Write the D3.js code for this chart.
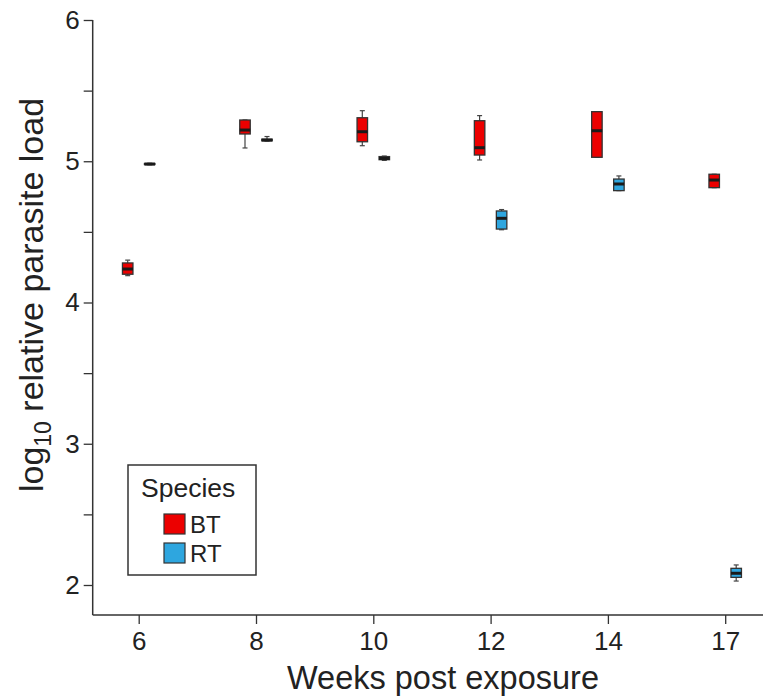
<!DOCTYPE html>
<html>
<head>
<meta charset="utf-8">
<script src="https://cdn.jsdelivr.net/npm/d3@7"></script>
<style>
  body { margin: 0; background: #fff; }
  text { font-family: "Liberation Sans", Arial, Helvetica, sans-serif; fill: #222; }
</style>
</head>
<body>
<div id="chart"></div>
<script>
'use strict';

// weeks post exposure (x categories)
var weeks = ['6', '8', '10', '12', '14', '17']
var species = ['BT', 'RT']
var speciesColor = ['#ec0000', '#2ea6df']

// [lower whisker, q1, median, q3, upper whisker] per week
var btStats = [
    [4.19, 4.20, 4.237, 4.28, 4.30],
    [5.094, 5.193, 5.221, 5.292, 5.292],
    [5.110, 5.138, 5.209, 5.308, 5.358],
    [5.009, 5.044, 5.096, 5.287, 5.323],
    [5.028, 5.028, 5.216, 5.351, 5.351],
    [4.813, 4.813, 4.867, 4.908, 4.908]
]
var rtStats = [
    [4.975, 4.977, 4.98, 4.984, 4.986],
    [5.143, 5.145, 5.15, 5.156, 5.175],
    [5.006, 5.011, 5.02, 5.033, 5.037],
    [4.515, 4.52, 4.596, 4.648, 4.658],
    [4.792, 4.792, 4.839, 4.874, 4.896],
    [2.028, 2.054, 2.083, 2.118, 2.142]
]

var yTicks = [2, 2.5, 3, 3.5, 4, 4.5, 5, 5.5, 6]

var W = 763, H = 698
var svg = d3.select('#chart').append('svg').attr('width', W).attr('height', H)

var x = d3.scalePoint().domain(weeks).range([138.7, 725.2])
var y = d3.scaleLinear().domain([2, 6]).range([585, 20])
var axisX = 92.7, axisY = 615
var dodge = 11, boxW = 10.5, capW = 5

// axis lines (open L frame)
svg.append('line').attr('x1', axisX).attr('x2', axisX).attr('y1', y(6)).attr('y2', axisY)
    .style('stroke', '#333').style('stroke-width', 1.5)
svg.append('line').attr('x1', axisX).attr('x2', W).attr('y1', axisY).attr('y2', axisY)
    .style('stroke', '#333').style('stroke-width', 1.5)

var yAxis = svg.append('g')
    .attr('transform', 'translate(' + axisX + ',0)')
    .call(d3.axisLeft(y).tickValues(yTicks).tickSize(9).tickPadding(4)
        .tickFormat(function(d) { return d % 1 === 0 ? d : '' }))
yAxis.select('.domain').remove()
yAxis.selectAll('line').style('stroke', '#333').style('stroke-width', 1.3)
yAxis.selectAll('text').style('font-size', '26px').style('fill', '#222')
    .style('font-family', '"Liberation Sans", Arial, sans-serif')

var xAxis = svg.append('g')
    .attr('transform', 'translate(0,' + axisY + ')')
    .call(d3.axisBottom(x).tickSize(9).tickPadding(8))
xAxis.select('.domain').remove()
xAxis.selectAll('line').style('stroke', '#333').style('stroke-width', 1.3)
xAxis.selectAll('text').style('font-size', '26px').style('fill', '#222')
    .style('font-family', '"Liberation Sans", Arial, sans-serif')

// axis titles
svg.append('text')
    .attr('x', 443).attr('y', 689)
    .attr('text-anchor', 'middle')
    .style('font-size', '32.5px')
    .text('Weeks post exposure')

var yt = svg.append('text')
    .attr('transform', 'translate(43,295) rotate(-90)')
    .attr('text-anchor', 'middle')
    .style('font-size', '34px')
yt.append('tspan').text('log')
yt.append('tspan').attr('dy', 8).style('font-size', '23px').text('10')
yt.append('tspan').attr('dy', -8).text(' relative parasite load')

// box plots
var rows = []
weeks.forEach(function(w, i) {
    rows.push({week: w, sp: 0, s: btStats[i]})
    rows.push({week: w, sp: 1, s: rtStats[i]})
})

var g = svg.selectAll('.box').data(rows).enter().append('g')
    .attr('class', 'box')
    .attr('transform', function(d) {
        return 'translate(' + (x(d.week) + (d.sp === 0 ? -dodge : dodge)) + ',0)'
    })

g.append('line').attr('x1', 0).attr('x2', 0)
    .attr('y1', function(d) { return y(d.s[0]) })
    .attr('y2', function(d) { return y(d.s[4]) })
    .style('stroke', '#444').style('stroke-width', 1.2)
g.append('line').attr('x1', -capW / 2).attr('x2', capW / 2)
    .attr('y1', function(d) { return y(d.s[0]) })
    .attr('y2', function(d) { return y(d.s[0]) })
    .style('stroke', '#444').style('stroke-width', 1.2)
g.append('line').attr('x1', -capW / 2).attr('x2', capW / 2)
    .attr('y1', function(d) { return y(d.s[4]) })
    .attr('y2', function(d) { return y(d.s[4]) })
    .style('stroke', '#444').style('stroke-width', 1.2)
g.append('rect')
    .attr('x', -boxW / 2).attr('width', boxW)
    .attr('y', function(d) { return y(d.s[3]) })
    .attr('height', function(d) { return Math.max(1, y(d.s[1]) - y(d.s[3])) })
    .style('fill', function(d) { return speciesColor[d.sp] })
    .style('stroke', '#333').style('stroke-width', 1.3)
g.append('line').attr('x1', -boxW / 2).attr('x2', boxW / 2)
    .attr('y1', function(d) { return y(d.s[2]) })
    .attr('y2', function(d) { return y(d.s[2]) })
    .style('stroke', '#1a1a1a').style('stroke-width', 3)

// legend
var lg = svg.append('g')
lg.append('rect').attr('x', 128).attr('y', 465).attr('width', 128).attr('height', 110)
    .style('fill', '#fff').style('stroke', '#333').style('stroke-width', 1.5)
lg.append('text').attr('x', 141).attr('y', 497).style('font-size', '26.5px').text('Species')
var li = lg.selectAll('.li').data(species).enter().append('g')
    .attr('transform', function(d, i) { return 'translate(164,' + (514 + i * 29) + ')' })
li.append('rect').attr('width', 21).attr('height', 20)
    .style('fill', function(d, i) { return speciesColor[i] })
    .style('stroke', '#333').style('stroke-width', 1.2)
li.append('text').attr('x', 26).attr('y', 19).style('font-size', '24px')
    .text(function(d) { return d })
</script>
</body>
</html>
